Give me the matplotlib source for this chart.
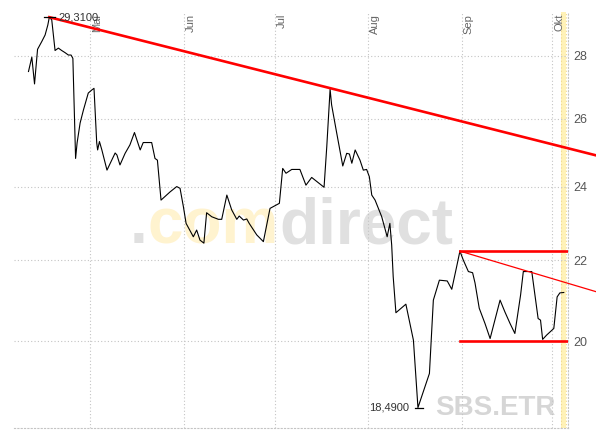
import matplotlib
matplotlib.use('Agg')
import matplotlib.pyplot as plt
from matplotlib import font_manager
from matplotlib.ticker import FixedLocator, NullLocator, FuncFormatter
from matplotlib.transforms import blended_transform_factory, offset_copy

# x = calendar days counted from 1 May, y = closing price (EUR)
days = [-20.5, -19.4, -18.5, -17.5, -16.1, -15.0, -14.1, -13.6, -12.8, -11.7,
        -10.6, -9.5, -8.4, -7.3, -6.4, -5.8, -4.9, -4.4, -3.4, -2.3,
        -0.7, 0.5, 1.2, 2.1, 2.4, 3.0, 3.8, 5.5, 8.2, 8.8,
        9.8, 11.5, 13.1, 14.6, 16.5, 17.5, 20.3, 21.4, 22.2, 23.4,
        26.4, 28.6, 29.7, 30.8, 31.7, 34.1, 35.2, 36.3, 37.6, 38.5,
        40.2, 42.4, 43.5, 45.2, 46.8, 48.5, 49.3, 50.7, 51.8, 52.6,
        55.1, 56.2, 57.3, 59.5, 62.6, 63.7, 64.8, 66.7, 69.4, 71.4,
        73.3, 77.4, 78.3, 79.4, 79.9, 81.4, 83.6, 84.9, 85.8, 86.6,
        87.7, 89.3, 90.4, 91.5, 92.4, 93.2, 94.3, 96.5, 98.3, 99.2,
        99.8, 100.3, 101.2, 104.5, 107.0, 108.5, 112.3, 113.6, 115.6, 118.2,
        119.7, 121.3, 122.4, 123.5, 125.2, 126.6, 127.4, 128.8, 130.7, 132.4,
        135.7, 137.3, 139.0, 140.6, 142.5, 143.4, 146.2, 148.3, 149.1, 149.8,
        151.1, 153.5, 154.6, 155.5, 156.8]
close = [27.49, 27.96, 27.09, 28.22, 28.48, 28.70, 29.04, 29.31, 29.22, 28.18,
         28.26, 28.18, 28.11, 28.03, 28.03, 27.92, 24.81, 25.27, 25.87, 26.27,
         26.80, 26.90, 26.95, 25.27, 25.06, 25.31, 25.06, 24.47, 24.97, 24.91,
         24.62, 24.96, 25.21, 25.58, 25.06, 25.28, 25.28, 24.81, 24.76, 23.62,
         23.85, 24.00, 23.95, 23.44, 22.98, 22.62, 22.80, 22.53, 22.45, 23.27,
         23.16, 23.09, 23.09, 23.76, 23.35, 23.09, 23.18, 23.07, 23.10, 22.98,
         22.67, 22.58, 22.49, 23.39, 23.53, 24.52, 24.38, 24.49, 24.49, 24.04,
         24.26, 23.98, 25.16, 26.92, 26.43, 25.66, 24.59, 24.96, 24.94, 24.67,
         25.06, 24.76, 24.47, 24.49, 24.28, 23.76, 23.62, 23.16, 22.62, 22.98,
         22.40, 21.58, 20.68, 20.89, 20.02, 18.49, 19.25, 20.99, 21.49, 21.47,
         21.26, 21.83, 22.24, 22.01, 21.71, 21.68, 21.42, 20.79, 20.42, 20.06,
         20.99, 20.70, 20.42, 20.18, 21.12, 21.71, 21.71, 20.54, 20.50, 20.04,
         20.14, 20.30, 21.07, 21.17, 21.18]

month_days = [0, 31, 61, 92, 123, 153]
month_labels = ['Mai', 'Jun', 'Jul', 'Aug', 'Sep', 'Okt']
price_ticks = [20, 22, 24, 26, 28]

high_day, high_price, high_label = -13.6, 29.31, '29,3100'
low_day, low_price, low_label = 108.6, 18.49, '18,4900'

# trend lines drawn on the chart
long_trend_days = [-13.6, 167.5]
long_trend_price = [29.31, 24.90]
short_trend_days = [122.4, 167.5]
short_trend_price = [22.24, 21.20]
channel_days = [122.4, 158.2]
channel_top = 22.24
channel_bottom = 20.00

today_span = [155.9, 157.5]
symbol = 'SBS.ETR'

plt.rcParams['font.family'] = ['Liberation Sans', 'DejaVu Sans']

fig = plt.figure(figsize=(5.96, 4.30), dpi=100)
ax = fig.add_axes([14 / 596, 2 / 430, 554 / 596, 416 / 430])

ax.set_yscale('log')
ax.set_xlim(-25.3, 158.2)
ax.set_ylim(18.05, 29.49)

grid_color = '#c4c4c4'
dot = (0, (1, 2))
ax.yaxis.set_major_locator(FixedLocator(price_ticks))
ax.yaxis.set_minor_locator(NullLocator())
ax.yaxis.set_major_formatter(FuncFormatter(lambda v, p: f'{v:.0f}'))
ax.yaxis.tick_right()
ax.tick_params(axis='y', length=0, pad=4, labelsize=9, labelcolor='#555555')
ax.set_xticks(month_days)
ax.set_xticklabels([])
ax.tick_params(axis='x', length=0)
ax.grid(True, color=grid_color, linestyle=dot, linewidth=0.8)
ax.set_axisbelow(True)

for side in ['top', 'left']:
    ax.spines[side].set_visible(False)
for side in ['right', 'bottom']:
    ax.spines[side].set_color(grid_color)
    ax.spines[side].set_linestyle(dot)
    ax.spines[side].set_linewidth(0.8)

# month labels sit inside the plot, at the top, right of each grid line
trans = offset_copy(blended_transform_factory(ax.transData, ax.transAxes),
                    fig=fig, x=2, y=-2, units='dots')
for d, lab in zip(month_days, month_labels):
    ax.text(d, 1.0, lab, transform=trans, rotation=90, ha='left', va='top',
            fontsize=8, color='#666666')

# current day marker
ax.axvspan(today_span[0], today_span[1], color='#fff2b8', zorder=0.4, lw=0)
for x in today_span:
    ax.axvline(x, color='#f0d890', linestyle=dot, linewidth=0.8, zorder=0.45)

# watermarks
names = {f.name for f in font_manager.fontManager.ttflist}
if 'Liberation Sans Narrow' in names:
    wm_font, wm_size = 'Liberation Sans Narrow', 55
else:
    wm_font, wm_size = 'Liberation Sans', 46
wm_gray = '#e0e0e0'
wm_yellow = '#fff3cf'
t1 = ax.text((130 - 14) / 554, (428 - 243) / 416, '.', transform=ax.transAxes,
             family=wm_font, fontsize=wm_size, fontweight='bold', color=wm_gray,
             ha='left', va='baseline', zorder=0.3)
t2 = ax.annotate('com', xy=(1, 0), xycoords=t1, ha='left', va='bottom',
                 family=wm_font, fontsize=wm_size, fontweight='bold',
                 color=wm_yellow, zorder=0.3)
ax.annotate('direct', xy=(1, 0), xycoords=t2, ha='left', va='bottom',
            family=wm_font, fontsize=wm_size, fontweight='bold',
            color=wm_gray, zorder=0.3)
ax.text((556 - 14) / 554, (428 - 415) / 416, symbol, transform=ax.transAxes,
        fontsize=20, fontweight='bold', color='#d6d6d6', ha='right',
        va='baseline', zorder=0.3)

# price line
ax.plot(days, close, color='black', linewidth=0.8, zorder=3)

# trend lines
ax.plot(long_trend_days, long_trend_price, color='#ff0000', linewidth=1.9,
        zorder=4, clip_on=False)
ax.plot(short_trend_days, short_trend_price, color='#ff0000', linewidth=0.9,
        zorder=4, clip_on=False)
ax.plot(channel_days, [channel_top, channel_top], color='#ff0000',
        linewidth=1.9, zorder=4)
ax.plot(channel_days, [channel_bottom, channel_bottom], color='#ff0000',
        linewidth=1.9, zorder=4)

# high / low markers
ax.plot([high_day - 1.6, high_day + 2.0], [high_price, high_price],
        color='black', linewidth=0.9, zorder=5, clip_on=False)
ax.annotate(high_label, xy=(high_day + 2.0, high_price), xytext=(2, 0),
            textcoords='offset points', ha='left', va='center', fontsize=8,
            color='#333333', zorder=5)
ax.plot([low_day - 1.2, low_day + 1.6], [low_price, low_price],
        color='black', linewidth=0.9, zorder=5)
ax.annotate(low_label, xy=(low_day - 1.2, low_price), xytext=(-4, 0),
            textcoords='offset points', ha='right', va='center', fontsize=8,
            color='#333333', zorder=5)

fig.savefig('out.png', dpi=100)
